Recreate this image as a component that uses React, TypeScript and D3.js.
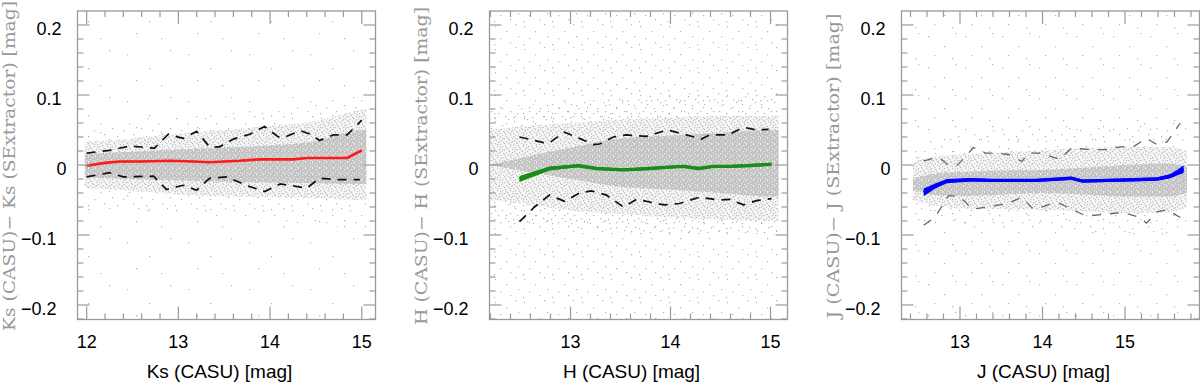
import React from "react";
import * as d3 from "d3";

// ---- Ks panel ----
const ksCloudX = [11.98, 12.5, 13.0, 13.5, 14.0, 14.5, 15.0, 15.05];
const ksHaloHi = [0.06, 0.065, 0.07, 0.075, 0.08, 0.09, 0.1, 0.1];
const ksHaloLo = [-0.06, -0.065, -0.07, -0.075, -0.08, -0.085, -0.09, -0.09];
const ksMidHi = [0.033, 0.038, 0.045, 0.05, 0.056, 0.063, 0.079, 0.08];
const ksMidLo = [-0.033, -0.037, -0.042, -0.045, -0.046, -0.047, -0.05, -0.05];
const ksCoreHi = [0.016, 0.019, 0.022, 0.025, 0.028, 0.034, 0.05, 0.05];
const ksCoreLo = [-0.018, -0.02, -0.022, -0.024, -0.025, -0.026, -0.027, -0.027];

const ksMeanX = [12.0, 12.2, 12.36, 12.6, 12.91, 13.16, 13.34, 13.67, 13.89, 14.25, 14.4, 14.84, 15.0];
const ksMean = [-0.001, 0.003, 0.005, 0.005, 0.006, 0.005, 0.004, 0.006, 0.008, 0.008, 0.01, 0.01, 0.021];
const ksErr = [0.001, 0.001, 0.001, 0.001, 0.001, 0.001, 0.001, 0.001, 0.001, 0.001, 0.001, 0.001, 0.001];

const ksUpX = [12.0, 12.25, 12.47, 12.74, 12.89, 13.05, 13.2, 13.34, 13.45, 13.6, 13.78, 13.94, 14.09, 14.18, 14.33, 14.44, 14.54, 14.69, 14.84, 15.0];
const ksUpY = [0.017, 0.021, 0.027, 0.024, 0.044, 0.038, 0.048, 0.026, 0.026, 0.037, 0.044, 0.055, 0.04, 0.041, 0.049, 0.044, 0.035, 0.043, 0.043, 0.064];
const ksLoX = [12.0, 12.25, 12.4, 12.73, 12.87, 13.05, 13.2, 13.34, 13.53, 13.74, 13.94, 14.11, 14.4, 14.54, 14.73, 14.98];
const ksLoY = [-0.017, -0.011, -0.017, -0.016, -0.035, -0.029, -0.036, -0.019, -0.017, -0.029, -0.038, -0.027, -0.033, -0.019, -0.021, -0.021];

// ---- H panel ----
const hCloudX = [12.19, 12.5, 13.0, 13.5, 14.0, 14.5, 15.0, 15.08];
const hHaloHi = [0.08, 0.085, 0.09, 0.095, 0.1, 0.1, 0.1, 0.1];
const hHaloLo = [-0.08, -0.085, -0.09, -0.095, -0.1, -0.1, -0.1, -0.1];
const hMidHi = [0.05, 0.055, 0.06, 0.065, 0.068, 0.07, 0.07, 0.07];
const hMidLo = [-0.05, -0.055, -0.065, -0.07, -0.075, -0.078, -0.08, -0.08];
const hCoreHi = [0.0, 0.01, 0.025, 0.038, 0.042, 0.046, 0.05, 0.05];
const hCoreLo = [0.0, -0.008, -0.02, -0.031, -0.035, -0.04, -0.045, -0.045];

const hMeanX = [12.49, 12.79, 12.93, 13.08, 13.26, 13.53, 13.79, 13.99, 14.13, 14.28, 14.43, 14.59, 14.76, 15.01];
const hMean = [-0.02, -0.005, -0.003, -0.001, -0.005, -0.007, -0.005, -0.003, -0.002, -0.005, -0.002, -0.002, -0.001, 0.001];
const hErr = [0.0043, 0.0028, 0.0022, 0.002, 0.002, 0.002, 0.002, 0.002, 0.002, 0.002, 0.002, 0.002, 0.002, 0.002];

const hUpX = [12.49, 12.73, 12.79, 12.94, 13.09, 13.23, 13.29, 13.43, 13.56, 13.76, 13.97, 14.16, 14.31, 14.39, 14.58, 14.73, 14.86, 14.98];
const hUpY = [0.04, 0.032, 0.032, 0.047, 0.038, 0.029, 0.03, 0.04, 0.043, 0.041, 0.05, 0.043, 0.037, 0.043, 0.043, 0.054, 0.05, 0.051];
const hLoX = [12.49, 12.64, 12.79, 12.94, 13.09, 13.21, 13.36, 13.53, 13.66, 13.93, 14.09, 14.29, 14.48, 14.59, 14.73, 14.86, 15.01];
const hLoY = [-0.081, -0.06, -0.043, -0.052, -0.04, -0.037, -0.043, -0.06, -0.049, -0.057, -0.055, -0.046, -0.05, -0.049, -0.057, -0.051, -0.048];

// ---- J panel ----
const jCloudX = [12.43, 12.7, 13.0, 13.5, 14.0, 14.5, 15.0, 15.5, 15.75];
const jHaloHi = [0.03, 0.04, 0.045, 0.05, 0.05, 0.055, 0.06, 0.065, 0.06];
const jHaloLo = [-0.08, -0.085, -0.09, -0.09, -0.09, -0.095, -0.1, -0.1, -0.09];
const jMidHi = [0.005, 0.012, 0.015, 0.018, 0.021, 0.024, 0.026, 0.026, 0.02];
const jMidLo = [-0.05, -0.058, -0.062, -0.063, -0.064, -0.066, -0.069, -0.068, -0.06];
const jCoreHi = [-0.02, -0.012, -0.01, -0.008, -0.007, -0.004, 0.0, 0.002, -0.002];
const jCoreLo = [-0.035, -0.043, -0.044, -0.042, -0.04, -0.042, -0.045, -0.045, -0.04];

const jMeanX = [12.56, 12.7, 12.84, 13.14, 13.38, 13.63, 13.91, 14.21, 14.35, 14.49, 14.78, 15.1, 15.39, 15.55, 15.63, 15.71];
const jMean = [-0.039, -0.03, -0.023, -0.021, -0.022, -0.022, -0.022, -0.02, -0.019, -0.023, -0.022, -0.021, -0.02, -0.016, -0.011, -0.006];
const jErr = [0.0055, 0.0036, 0.0029, 0.0024, 0.0024, 0.0024, 0.0024, 0.0024, 0.0024, 0.0024, 0.0024, 0.0024, 0.0024, 0.003, 0.004, 0.0055];

const jUpX = [12.56, 12.74, 12.86, 12.96, 13.07, 13.16, 13.31, 13.43, 13.59, 13.75, 13.83, 13.97, 14.21, 14.35, 14.62, 14.78, 14.94, 15.1, 15.26, 15.39, 15.51, 15.67];
const jUpY = [0.006, 0.011, 0.0, -0.001, 0.012, 0.025, 0.017, 0.017, 0.015, 0.005, 0.017, 0.017, 0.008, 0.024, 0.022, 0.022, 0.026, 0.026, 0.038, 0.029, 0.033, 0.06];
const jLoX = [12.56, 12.7, 12.79, 12.86, 12.96, 13.06, 13.14, 13.34, 13.58, 13.75, 13.88, 13.99, 14.09, 14.21, 14.37, 14.53, 14.78, 14.98, 15.18, 15.26, 15.39, 15.51, 15.67];
const jLoY = [-0.086, -0.074, -0.057, -0.044, -0.044, -0.052, -0.063, -0.06, -0.055, -0.046, -0.062, -0.06, -0.056, -0.055, -0.064, -0.073, -0.07, -0.068, -0.075, -0.083, -0.067, -0.064, -0.075];

const yTicks = [-0.2, -0.1, 0, 0.1, 0.2];

const PW = 298;
const TOP = 11;
const BOTTOM = 319.5;
const FRAME = "#9a9a9a";
const DOT = "#b2b2b2";
const SANS = "'Liberation Sans', Arial, sans-serif";

const panels = [
  {
    id: "ks", left: 77.5, xDomain: [11.9, 15.15], xTicks: [12, 13, 14, 15],
    band: "Ks", color: "#ff1a1a", lineW: 2.6, labelLen: 330,
    cloudX: ksCloudX, sparse: "sp1",
    layers: [[ksHaloLo, ksHaloHi, "sp2"], [ksMidLo, ksMidHi, "mid"], [ksCoreLo, ksCoreHi, "dense"]],
    meanX: ksMeanX, mean: ksMean, err: ksErr,
    up: [ksUpX, ksUpY], lo: [ksLoX, ksLoY], dash: { stroke: "#111", w: 1.7, arr: "9,7" },
  },
  {
    id: "h", left: 489.5, xDomain: [12.19, 15.17], xTicks: [13, 14, 15],
    band: "H", color: "#1a8c1a", lineW: 3.4, labelLen: 318,
    cloudX: hCloudX, sparse: "sp2",
    layers: [[hHaloLo, hHaloHi, "sp3"], [hMidLo, hMidHi, "mid"], [hCoreLo, hCoreHi, "dense"]],
    meanX: hMeanX, mean: hMean, err: hErr,
    up: [hUpX, hUpY], lo: [hLoX, hLoY], dash: { stroke: "#111", w: 1.7, arr: "9,7" },
  },
  {
    id: "j", left: 901.5, xDomain: [12.291, 15.903], xTicks: [13, 14, 15],
    band: "J", color: "#0000ff", lineW: 3, labelLen: 305,
    cloudX: jCloudX, sparse: "sp1b",
    layers: [[jHaloLo, jHaloHi, "sp2"], [jMidLo, jMidHi, "mid"], [jCoreLo, jCoreHi, "dense"]],
    meanX: jMeanX, mean: jMean, err: jErr,
    up: [jUpX, jUpY], lo: [jLoX, jLoY], dash: { stroke: "#666", w: 1.3, arr: "9,9" },
  },
];

// stipple tiles used to texture the point cloud
function Dots({ id, w, h, pts, bg, speck }: { id: string; w: number; h: number; pts: number[][]; bg?: string; speck?: string }) {
  return (
    <pattern id={id} width={w} height={h} patternUnits="userSpaceOnUse">
      {bg && <rect width={w} height={h} fill={bg} />}
      {pts.map((p, i) => (
        <rect key={i} x={p[0]} y={p[1]} width={1.2} height={1.2} fill={speck || DOT} />
      ))}
    </pattern>
  );
}

function Panel({ p }: { p: any }) {
  const right = p.left + PW;
  const x = d3.scaleLinear().domain(p.xDomain).range([p.left, right]);
  const y = d3.scaleLinear().domain([-0.2, 0.2]).range([305, 25]);

  const env = (lo: number[], hi: number[]) =>
    d3.area<number>()
      .x((_, i) => x(p.cloudX[i]))
      .y0((_, i) => y(lo[i]))
      .y1((_, i) => y(hi[i]))
      .curve(d3.curveMonotoneX)(lo) as string;

  const line = (xs: number[], ys: number[]) =>
    d3.line<number>().x((_, i) => x(xs[i])).y((d) => y(d))(ys) as string;

  const errArea = d3.area<number>()
    .x((_, i) => x(p.meanX[i]))
    .y0((d, i) => y(d - p.err[i]))
    .y1((d, i) => y(d + p.err[i]))(p.mean) as string;

  const [x0, x1] = x.domain();
  const minorX = d3.range(Math.ceil(x0 * 5), Math.floor(x1 * 5) + 1).map((k) => k / 5);
  const minorY = d3.range(-11, 12).map((k) => k * 0.02).filter((v) => y(v) > TOP && y(v) < BOTTOM);
  const isMajor = (v: number) => Math.abs(v - Math.round(v)) < 1e-6;
  const isMajorY = (v: number) => Math.abs(v * 10 - Math.round(v * 10)) < 1e-6;

  const cx0 = x(p.cloudX[0]);
  const cx1 = x(p.cloudX[p.cloudX.length - 1]);

  return (
    <g>
      <clipPath id={`clip-${p.id}`}>
        <rect x={p.left} y={TOP} width={PW} height={BOTTOM - TOP} />
      </clipPath>
      <g clipPath={`url(#clip-${p.id})`}>
        <rect x={cx0} y={TOP} width={cx1 - cx0} height={BOTTOM - TOP} fill={`url(#${p.sparse})`} />
        {p.layers.map((l: any, i: number) => (
          <path key={i} d={env(l[0], l[1])} fill={`url(#${l[2]})`} />
        ))}
        <path d={line(p.up[0], p.up[1])} fill="none" stroke={p.dash.stroke} strokeWidth={p.dash.w} strokeDasharray={p.dash.arr} />
        <path d={line(p.lo[0], p.lo[1])} fill="none" stroke={p.dash.stroke} strokeWidth={p.dash.w} strokeDasharray={p.dash.arr} />
        <path d={errArea} fill={p.color} />
        <path d={line(p.meanX, p.mean)} fill="none" stroke={p.color} strokeWidth={p.lineW} strokeLinejoin="round" />
      </g>

      <rect x={p.left} y={TOP} width={PW} height={BOTTOM - TOP} fill="none" stroke={FRAME} strokeWidth={1.3} />
      {minorX.map((v) => {
        const len = isMajor(v) ? 13 : 6;
        return (
          <g key={`x${v}`} stroke={FRAME} strokeWidth={1.2}>
            <line x1={x(v)} x2={x(v)} y1={BOTTOM} y2={BOTTOM - len} />
            <line x1={x(v)} x2={x(v)} y1={TOP} y2={TOP + len} />
          </g>
        );
      })}
      {minorY.map((v) => {
        const len = isMajorY(v) ? 12 : 6;
        return (
          <g key={`y${v}`} stroke={FRAME} strokeWidth={1.2}>
            <line x1={p.left} x2={p.left + len} y1={y(v)} y2={y(v)} />
            <line x1={right} x2={right - len} y1={y(v)} y2={y(v)} />
          </g>
        );
      })}

      {p.xTicks.map((v: number) => (
        <text key={`xl${v}`} x={x(v)} y={348} textAnchor="middle" fontFamily={SANS} fontSize={18} fill="#000">
          {v}
        </text>
      ))}
      {yTicks.map((v) => (
        <text
          key={`yl${v}`}
          x={p.left - (v > 0 ? 16 : v < 0 ? 21 : 11)}
          y={y(v) + 10}
          textAnchor="end"
          fontFamily={SANS}
          fontSize={18}
          fill="#000"
        >
          {v === 0 ? "0" : d3.format(".1f")(v)}
        </text>
      ))}

      <text x={p.left + PW / 2 - 7} y={378} textAnchor="middle" fontFamily={SANS} fontSize={19} fill="#000">
        {`${p.band} (CASU) [mag]`}
      </text>
      <text
        transform={`translate(${p.left - 68},166) rotate(-90)`}
        textAnchor="middle"
        dominantBaseline="central"
        fontFamily="'DejaVu Serif', serif"
        fontSize={16}
        fill="#999"
        textLength={p.labelLen}
        lengthAdjust="spacingAndGlyphs"
      >
        {`${p.band} (CASU)\u2212 ${p.band} (SExtractor) [mag]`}
      </text>
    </g>
  );
}

export default function App() {
  return (
    <svg width={1200} height={388} style={{ position: "absolute", left: 0, top: 0, background: "#fff" }}>
      <defs>
        <Dots id="sp1" w={61} h={47} pts={[[5, 7], [27, 21], [48, 3], [39, 38], [14, 33]]} />
        <Dots id="sp1b" w={37} h={31} pts={[[3, 5], [19, 15], [30, 2], [9, 24], [27, 27]]} />
        <Dots id="sp2" w={29} h={23} pts={[[2, 3], [13, 8], [22, 1], [7, 15], [25, 13], [17, 19], [1, 21]]} />
        <Dots id="sp3" w={19} h={17} pts={[[1, 2], [8, 6], [14, 0], [4, 11], [16, 9], [11, 14], [0, 15]]} />
        <Dots
          id="mid"
          w={13}
          h={11}
          bg="#f6f6f6"
          speck="#bdbdbd"
          pts={[
            [1, 0], [6, 1], [10, 0], [3, 3], [8, 3], [12, 4], [0, 5], [5, 6], [10, 6], [2, 8],
            [7, 8], [12, 9], [4, 10], [9, 10], [3, 1], [11, 2], [6, 4], [1, 7], [8, 6], [5, 9],
          ]}
        />
        <Dots id="dense" w={7} h={6} bg="#c4c4c4" speck="#eeeeee" pts={[[1, 1], [4, 0], [6, 3], [2, 4], [4, 5]]} />
      </defs>
      {panels.map((p) => (
        <Panel key={p.id} p={p} />
      ))}
    </svg>
  );
}
